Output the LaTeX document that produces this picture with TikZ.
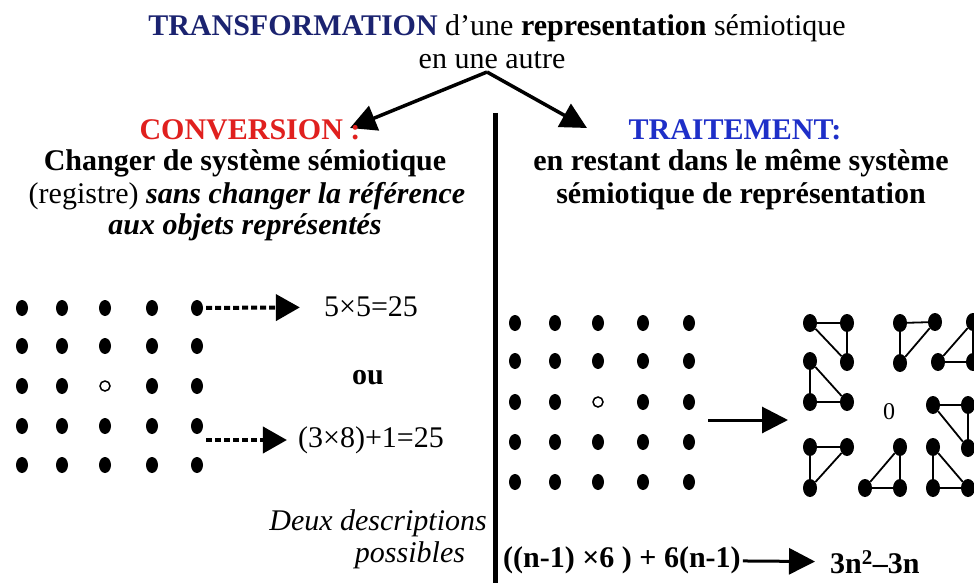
\documentclass[tikz,border=0pt]{standalone}
\usepackage{fontspec}
\setmainfont{Liberation Serif}
\usepackage{xcolor}
\definecolor{txtNavy}{HTML}{1B2370}
\definecolor{txtRed}{HTML}{E0201E}
\definecolor{txtBlue}{HTML}{1E2FC8}
\usetikzlibrary{arrows.meta,shapes.geometric}

\tikzset{
  lbl/.style={inner sep=2pt, font=\fontsize{30}{34}\selectfont},
  dot/.style={ellipse, fill=black, inner sep=0pt, minimum width=12pt, minimum height=16pt},
  bigdot/.style={ellipse, fill=black, inner sep=0pt, minimum width=14pt, minimum height=18pt},
  hole/.style={circle, draw=black, line width=1.5pt, inner sep=0pt, minimum size=10pt},
  edge/.style={line width=1.8pt},
  bigarrow/.style={line width=3.5pt, -{Triangle[length=26pt,width=26pt]}},
  dasharrow/.style={line width=4pt, dash pattern=on 6pt off 3pt, -{Triangle[length=24pt,width=26pt]}}
}

\begin{document}
\begin{tikzpicture}[x=1pt, y=-1pt]
  \useasboundingbox[fill=white] (0,0) rectangle (974,583);
  \node[lbl] (title) at (497,28) {{\color{txtNavy}\bfseries TRANSFORMATION} d’une {\bfseries representation} sémiotique};
  \node[lbl] (title2) at (492,60) {en une autre};
  \coordinate (apex) at (487,72);
  \coordinate (convTip) at (350,128);
  \coordinate (traitTip) at (587,128);
  \draw[bigarrow] (apex) -- (convTip);
  \draw[bigarrow] (apex) -- (traitTip);
  \coordinate (barTop) at (495,113);
  \coordinate (barBot) at (495,590);
  \draw[line width=5pt] (barTop) -- (barBot);

  \node[lbl, text=txtRed, font=\fontsize{30}{34}\selectfont\bfseries] (conv) at (250,130) {CONVERSION :};
  \node[lbl, font=\fontsize{30}{34}\selectfont\bfseries] (conv1) at (245,163) {Changer de système sémiotique};
  \node[lbl] (conv2) at (247,196) {(registre) {\bfseries\itshape sans changer la référence}};
  \node[lbl, font=\fontsize{30}{34}\selectfont\bfseries\itshape] (conv3) at (245,227) {aux objets représentés};

  \node[lbl, text=txtBlue, font=\fontsize{30}{34}\selectfont\bfseries] (trait) at (735,130) {TRAITEMENT:};
  \node[lbl, font=\fontsize{30}{34}\selectfont\bfseries] (trait1) at (741,163) {en restant dans le même système};
  \node[lbl, font=\fontsize{30}{34}\selectfont\bfseries] (trait2) at (741,196) {sémiotique de représentation};

  \foreach \c/\x in {1/22,2/62,3/105,4/152,5/197}
    \foreach \r/\y in {1/308,2/346,3/386,4/426,5/465} {
      \ifnum\c\r=33
        \node[hole] (L\r\c) at (\x,\y) {};
      \else
        \node[dot] (L\r\c) at (\x,\y) {};
      \fi
    }
  \node[lbl] (res1) at (371,307) {5×5=25};
  \node[lbl, font=\fontsize{30}{34}\selectfont\bfseries] (ou) at (368,378) {ou};
  \node[lbl] (res2) at (371,440) {(3×8)+1=25};
  \draw[dasharrow, shorten <=3pt, shorten >=22pt] (L15) -- (res1);
  \draw[dasharrow, shorten <=3pt, shorten >=9pt] (res2.west -| L45.east) -- (res2.west);

  \node[lbl, anchor=east, font=\fontsize{30}{34}\selectfont\itshape] (deux1) at (489,523) {Deux descriptions};
  \node[lbl, font=\fontsize{30}{34}\selectfont\itshape] (deux2) at (410,555) {possibles};

  \foreach \c/\x in {1/515,2/555,3/598,4/643,5/689}
    \foreach \r/\y in {1/323,2/361,3/402,4/442,5/482} {
      \ifnum\c\r=33
        \node[hole] (R\r\c) at (\x,\y) {};
      \else
        \node[dot] (R\r\c) at (\x,\y) {};
      \fi
    }
  \coordinate (trS) at (708,420);
  \coordinate (trE) at (788,420);
  \draw[bigarrow, line width=3pt] (trS) -- (trE);

  \foreach \n/\ax/\ay/\bx/\by/\cx/\cy in {1/810/323/847/323/847/362, 2/810/361/810/402/847/402,
      3/810/447/847/447/810/488, 4/900/447/865/488/900/488, 5/933/447/933/488/968/488,
      6/933/405/968/405/968/448, 7/900/323/935/322/900/363, 8/938/362/973/322/973/362} {
    \node[bigdot] (T\n a) at (\ax,\ay) {};
    \node[bigdot] (T\n b) at (\bx,\by) {};
    \node[bigdot] (T\n c) at (\cx,\cy) {};
    \draw[edge] (T\n a) -- (T\n b) -- (T\n c) -- (T\n a);
  }
  \node[inner sep=1pt, font=\fontsize{24}{26}\selectfont] (zero) at (889,412) {0};

  \node[lbl, anchor=west, font=\fontsize{30}{34}\selectfont\bfseries] (formula) at (501,560) {((n-1) ×6 ) + 6(n-1)};
  \node[lbl, anchor=west, font=\fontsize{30}{34}\selectfont\bfseries] (result) at (828,562) {3n\textsuperscript{2}–3n};
  \draw[bigarrow, line width=3pt, shorten >=13pt] (formula) -- (result);
\end{tikzpicture}
\end{document}
